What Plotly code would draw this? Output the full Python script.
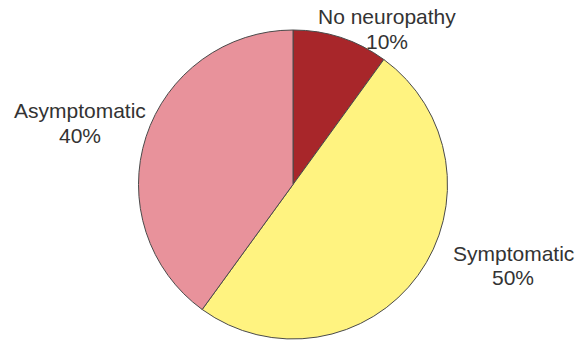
import plotly.graph_objects as go

labels = ["No neuropathy", "Symptomatic", "Asymptomatic"]
values = [10, 50, 40]
colors = ["#A8262A", "#FFF380", "#E8929B"]

W, H = 577, 342
ML, MR, MT, MB = 9, 0, 30, 3
PW, PH = W - ML - MR, H - MT - MB

fig = go.Figure(go.Pie(
    labels=labels, values=values, sort=False, direction="clockwise", rotation=0,
    marker=dict(colors=colors, line=dict(color="#4a4a4a", width=1)),
    textinfo="none", hoverinfo="label+percent", showlegend=False,
))

# label anchor positions (pixel centers for line 1 and line 2)
label_pos = {
    "No neuropathy": (387, 17, 41),
    "Asymptomatic": (80, 110, 135),
    "Symptomatic": (513, 253, 277),
}
total = sum(values)
for lab, val in zip(labels, values):
    px, py1, py2 = label_pos[lab]
    for txt, py in ((lab, py1), (f"{round(100*val/total)}%", py2)):
        fig.add_annotation(
            text=txt, xref="paper", yref="paper",
            x=(px - ML) / PW, y=(H - MB - py) / PH,
            xanchor="center", yanchor="middle", showarrow=False,
            font=dict(family="Liberation Sans, Arial", size=21, color="#333333"),
        )

fig.update_layout(
    width=W, height=H, margin=dict(l=ML, r=MR, t=MT, b=MB),
    paper_bgcolor="white", plot_bgcolor="white",
)
fig.write_html(
    "out.html",
    config={"displayModeBar": False},
    post_script="document.body.style.margin='0';document.body.style.overflow='hidden';",
)
